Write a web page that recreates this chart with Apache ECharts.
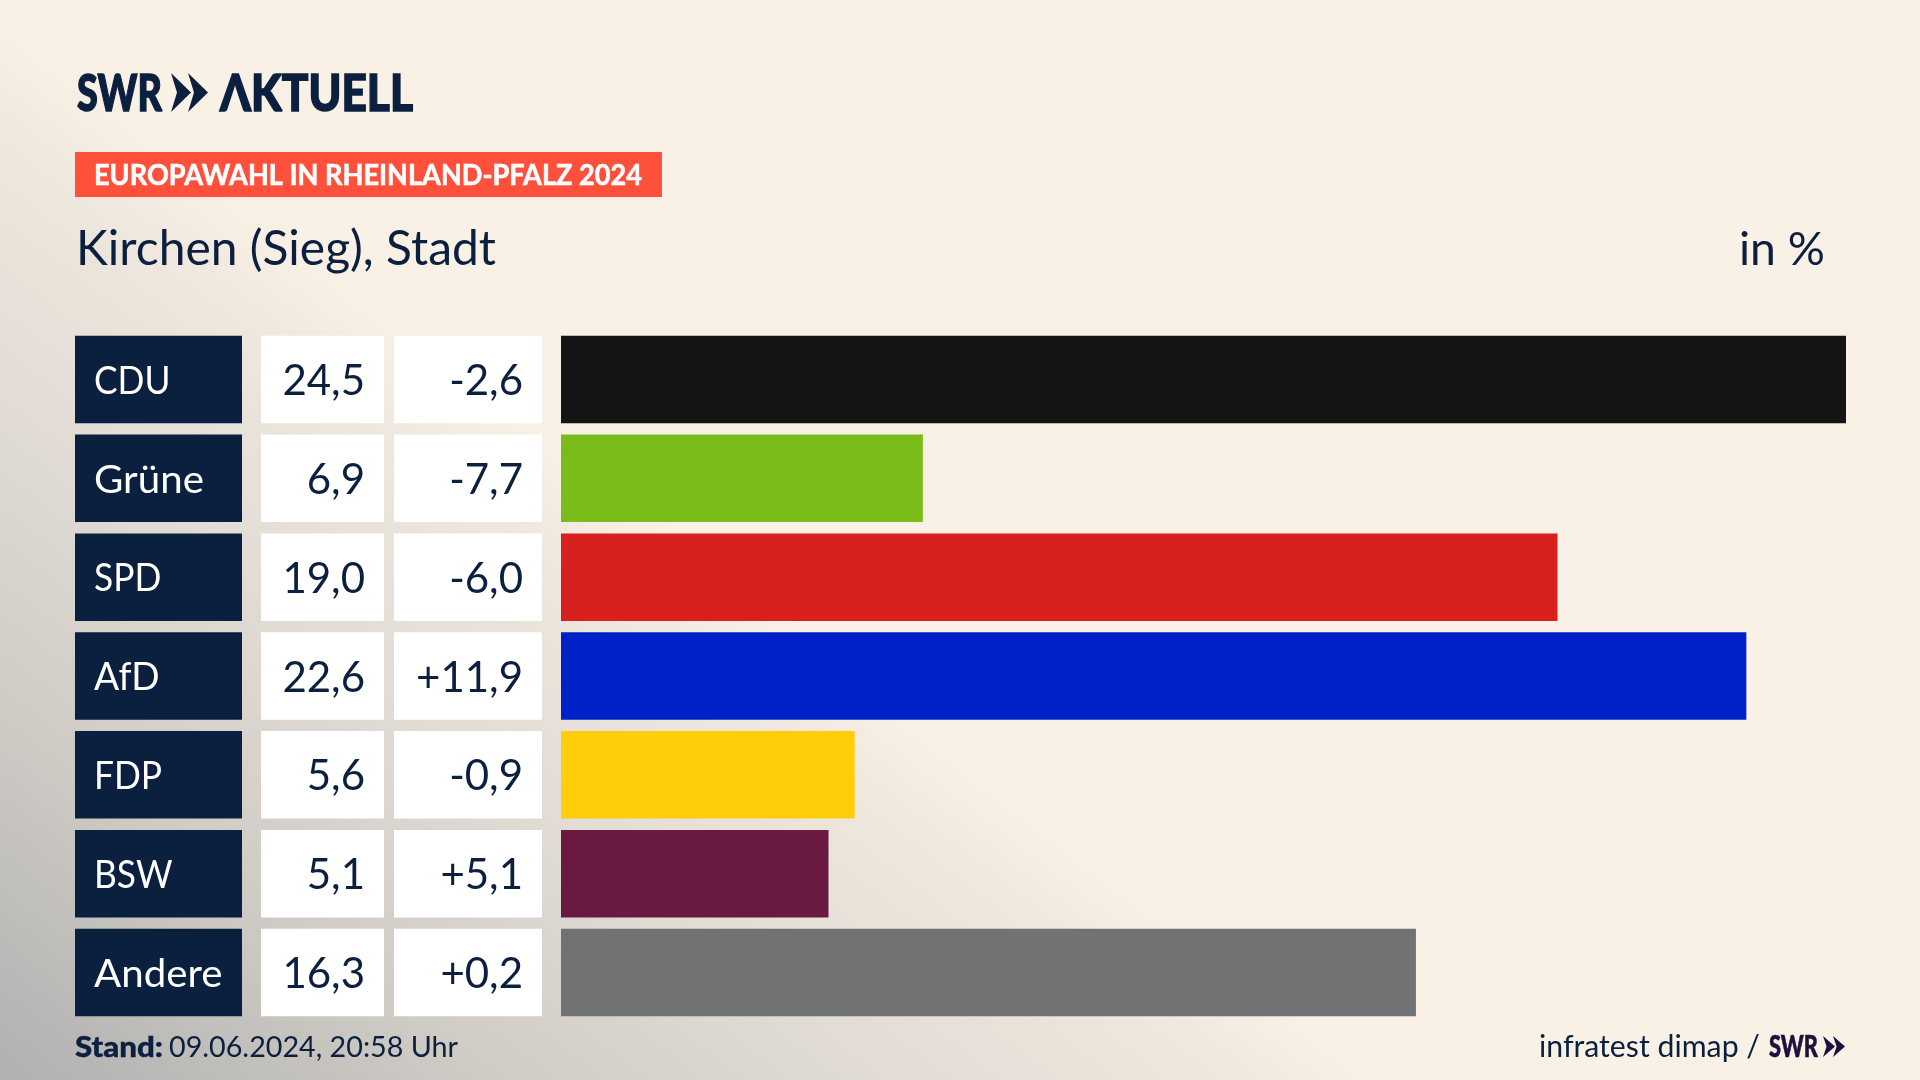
<!DOCTYPE html>
<html><head><meta charset="utf-8">
<style>
html,body{margin:0;padding:0;width:1920px;height:1080px;overflow:hidden;background:#FAF1E6}
#bg{position:absolute;left:0;top:0;width:1920px;height:1080px;
background:linear-gradient(37.6deg,#B0B0AF 0%,#BFBDBA 7%,#CFCBC5 14.9%,#DBD6CF 22.7%,#E6E0D8 30.5%,#EBE4DB 34.4%,#F2EAE0 38.3%,#FAF1E6 42%,#FAF1E6 100%)}
#c{position:absolute;left:0;top:0;width:1920px;height:1080px}
</style>
<script src="https://cdn.jsdelivr.net/npm/echarts@6/dist/echarts.min.js"></script>
</head><body><div id="bg"></div><div id="c"></div>
<script>
const parties = ['CDU','Grüne','SPD','AfD','FDP','BSW','Andere'];
const shares = [24.5,6.9,19.0,22.6,5.6,5.1,16.3];
const changes = [-2.6,-7.7,-6.0,11.9,-0.9,5.1,0.2];
const colors = ['#141414','#7ABD1A','#D8201E','#0021C8','#FFCD0A','#6A1A40','#707274'];
const NAVY = '#0B1F3F';
const FONT = 'Lato';
const fmt = v => v.toFixed(1).replace('.',',');
const sgn = v => (v>0?'+':'')+fmt(v);

const ROW_H = 87.5, TOP = 330, HEIGHT = 692;
const nameScale = s => /[a-zü]{2}/.test(s) ? 1.06 : (/[a-z]/.test(s) ? 0.98 : 0.93);
const columns = [
  {x:75, w:167, bg:NAVY, fill:'#fff', align:'left', pad:19, size:38, text:i=>parties[i], sx:nameScale},
  {x:261, w:123, bg:'#fff', fill:NAVY, align:'right', pad:19, size:42, text:i=>fmt(shares[i]), sx:()=>1},
  {x:394, w:148, bg:'#fff', fill:NAVY, align:'right', pad:19, size:42, text:i=>sgn(changes[i]), sx:()=>1}
];
const ctx = document.createElement('canvas').getContext('2d');
function fit(text, font, width){ ctx.font = font; return width/ctx.measureText(text).width; }
function txt(text,x,y,size,weight,fill,width,heavy){
  const font = weight+' '+size+'px '+FONT;
  const s = width? fit(text,font,width):1;
  const style={text,font,fill,align:'left',verticalAlign:'middle'};
  if(heavy){style.stroke=fill;style.lineWidth=heavy;}
  return {type:'text',x,y,scaleX:s,style,z:5,silent:true};
}
function chevrons(x,y,w,h,off,fill){
  const one=ox=>({type:'polygon',shape:{points:[[ox,y],[ox+w,y+h/2],[ox,y+h],[ox+w*0.3,y+h/2]]},style:{fill},z:5,silent:true});
  return [one(x),one(x+off)];
}
const grids=[], xAxes=[], yAxes=[], series=[];
columns.forEach((c,k)=>{
  grids.push({left:c.x,top:TOP,width:c.w,height:HEIGHT});
  xAxes.push({gridIndex:k,type:'value',min:0,max:1,show:false});
  yAxes.push({gridIndex:k,type:'category',data:parties,inverse:true,show:false});
  series.push({type:'custom',xAxisIndex:k,yAxisIndex:k,data:parties.map(p=>[0,p]),
    encode:{x:0,y:1},silent:true,
    renderItem(params,api){
      const i=params.dataIndex, cy=api.coord([0,i])[1], cs=params.coordSys;
      const tx=c.align==='left'?cs.x+c.pad:cs.x+cs.width-c.pad, t=c.text(i);
      return {type:'group',children:[
        {type:'rect',shape:{x:cs.x,y:cy-ROW_H/2,width:cs.width,height:ROW_H},style:{fill:c.bg}},
        {type:'text',x:tx,y:cy+2,scaleX:c.sx(t),style:{text:t,font:'400 '+c.size+'px '+FONT,fill:c.fill,align:c.align,verticalAlign:'middle'}}
      ]};
    }});
});
grids.push({left:561,top:TOP,width:1285,height:HEIGHT});
xAxes.push({gridIndex:3,type:'value',min:0,max:24.5,show:false});
yAxes.push({gridIndex:3,type:'category',data:parties,inverse:true,show:false});
series.push({type:'bar',xAxisIndex:3,yAxisIndex:3,barWidth:ROW_H,silent:true,
  data:shares.map((v,i)=>({value:v,itemStyle:{color:colors[i]}}))});

const chart = echarts.init(document.getElementById('c'),null,{renderer:'canvas',width:1920,height:1080});
chart.setOption({
  animation:false,
  backgroundColor:'transparent',
  grid:grids,xAxis:xAxes,yAxis:yAxes,series,
  graphic:[
    txt('SWR',77,94,52,'900',NAVY,85,1.5),
    ...chevrons(171,73,20,39,17,NAVY),
    txt('ΛKTUELL',220,94,52,'900',NAVY,193,1.5),
    {type:'rect',shape:{x:75,y:152,width:587,height:45},style:{fill:'#FF503C'},z:4,silent:true},
    txt('EUROPAWAHL IN RHEINLAND-PFALZ 2024',94,176,29,'700','#fff',548,0.6),
    txt('Kirchen (Sieg), Stadt',76,250,48,'400',NAVY,420),
    txt('in %',1739,250,47,'400',NAVY,86),
    txt('Stand:',75,1048,29,'900',NAVY,88,0.4),
    txt('09.06.2024, 20:58 Uhr',169,1048,29,'400',NAVY,289),
    txt('infratest dimap /',1539,1047,31,'400',NAVY,221),
    txt('SWR',1769,1047,31,'900','#1E0F3C',49,0.6),
    ...chevrons(1823,1036,12,21,10,'#1E0F3C')
  ]
});
</script></body></html>
